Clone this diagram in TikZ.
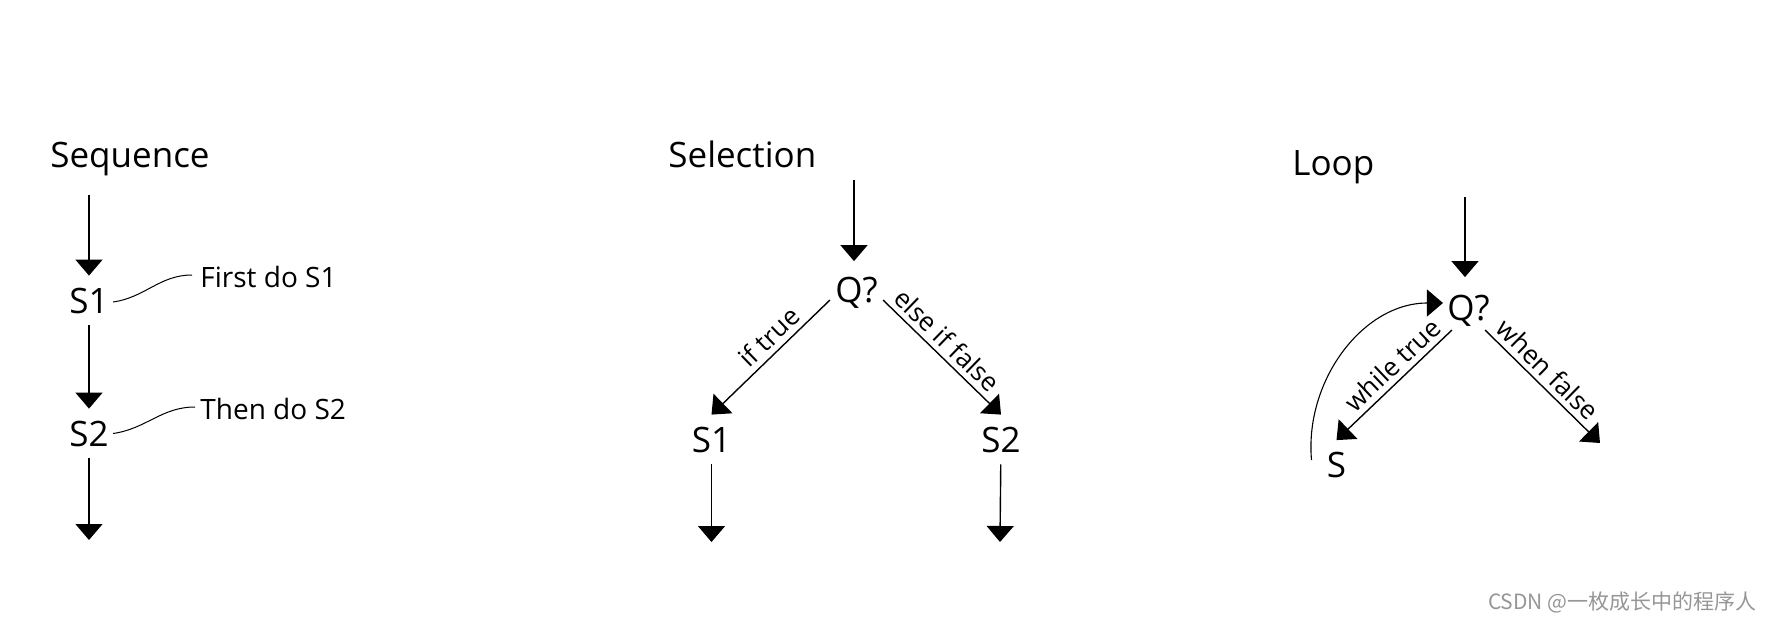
\documentclass[tikz,border=0pt]{standalone}
\usepackage{fontspec}
\setmainfont{Open Sans}
\newfontfamily\cjkfont{Noto Sans CJK SC}
\usetikzlibrary{arrows.meta}
\definecolor{wmgray}{RGB}{150,150,150}
\begin{document}
\begin{tikzpicture}[x=0.5pt,y=-0.5pt,
  arr/.style={line width=0.7pt,-{Triangle[length=8pt,width=13.5pt]}},
  callout/.style={line width=0.5pt},
  titletext/.style={font=\fontsize{17.5}{20}\selectfont, inner sep=0pt, text height=12.5pt, text depth=0pt, anchor=west},
  stmt/.style={font=\fontsize{17.5}{20}\selectfont, inner xsep=0pt, inner ysep=6pt, text height=12.5pt, text depth=0pt},
  note/.style={font=\fontsize{14}{16}\selectfont, inner sep=0pt, text height=10pt, text depth=0pt, anchor=west},
  edgelbl/.style={font=\fontsize{13}{15}\selectfont, sloped, above, inner sep=2.8pt, text depth=0pt},
  wmark/.style={font=\cjkfont\fontsize{10.5}{12}\selectfont, text=wmgray, inner sep=0pt, anchor=east}
]
\useasboundingbox (0,0) rectangle (1774,622);

% ---------- Sequence ----------
\node[titletext] (seqtitle) at (50,155) {Sequence};
\coordinate (seqin) at (89,195);
\node[stmt] (sqs1) at (89,300.5) {S1};
\node[stmt] (sqs2) at (89,433.5) {S2};
\coordinate (seqout) at (89,540);
\draw[arr] (seqin) -- (sqs1);
\draw[arr] (sqs1) -- (sqs2);
\draw[arr] (sqs2) -- (seqout);
\node[note] (n1) at (200,277) {First do S1};
\node[note] (n2) at (200,409) {Then do S2};
\draw[callout] ([xshift=2pt,yshift=-0.75pt]sqs1.east) to[out=8,in=180] ([xshift=-4pt,yshift=1pt]n1.west);
\draw[callout] ([xshift=2pt,yshift=0pt]sqs2.east) to[out=8,in=180] ([xshift=-2.5pt,yshift=1pt]n2.west);

% ---------- Selection ----------
\node[titletext] (seltitle) at (668,154.5) {Selection};
\coordinate (selin) at (854,180);
\node[stmt] (q1) at (856.5,290) {Q?};
\node[stmt] (ss1) at (711.5,439.5) {S1};
\node[stmt] (ss2) at (1001,439.5) {S2};
\coordinate (s1out) at (711.5,542);
\coordinate (s2out) at (1000,542);
\coordinate (q1top) at ([yshift=2pt]q1.north);
\draw[arr] (selin) -- (selin |- q1top);
\draw[arr] ([xshift=-2.5pt,yshift=-5pt]q1.west) -- (ss1.north) node[edgelbl,pos=0.42] {if true};
\draw[arr] ([xshift=2.5pt,yshift=-5pt]q1.east) -- (ss2.north) node[edgelbl,pos=0.45] {else if false};
\draw[arr] (ss1) -- (s1out);
\draw[arr] (ss2) -- (s2out);

% ---------- Loop ----------
\node[titletext] (looptitle) at (1292,162.5) {Loop};
\coordinate (loopin) at (1465,197);
\node[stmt] (lq) at (1468.5,308) {Q?};
\node[stmt] (ls) at (1336.5,465) {S};
\coordinate (loopout) at (1600,443);
\coordinate (lqtop) at ([yshift=3pt]lq.north);
\draw[arr] (loopin) -- (loopin |- lqtop);
\draw[arr] ([xshift=2.5pt,yshift=-11pt]lq.west) -- (ls.north) node[edgelbl,pos=0.42] {while true};
\draw[arr] ([xshift=-2.5pt,yshift=-11pt]lq.east) -- (loopout) node[edgelbl,pos=0.45] {when false};
\draw[arr,line width=0.55pt] ([xshift=-7.5pt,yshift=2.5pt]ls.west) to[out=95,in=180] ([xshift=-2pt,yshift=2.5pt]lq.west);

% ---------- watermark ----------
\node[wmark] (wm) at (1757,602) {CSDN @一枚成长中的程序人};
\end{tikzpicture}
\end{document}
